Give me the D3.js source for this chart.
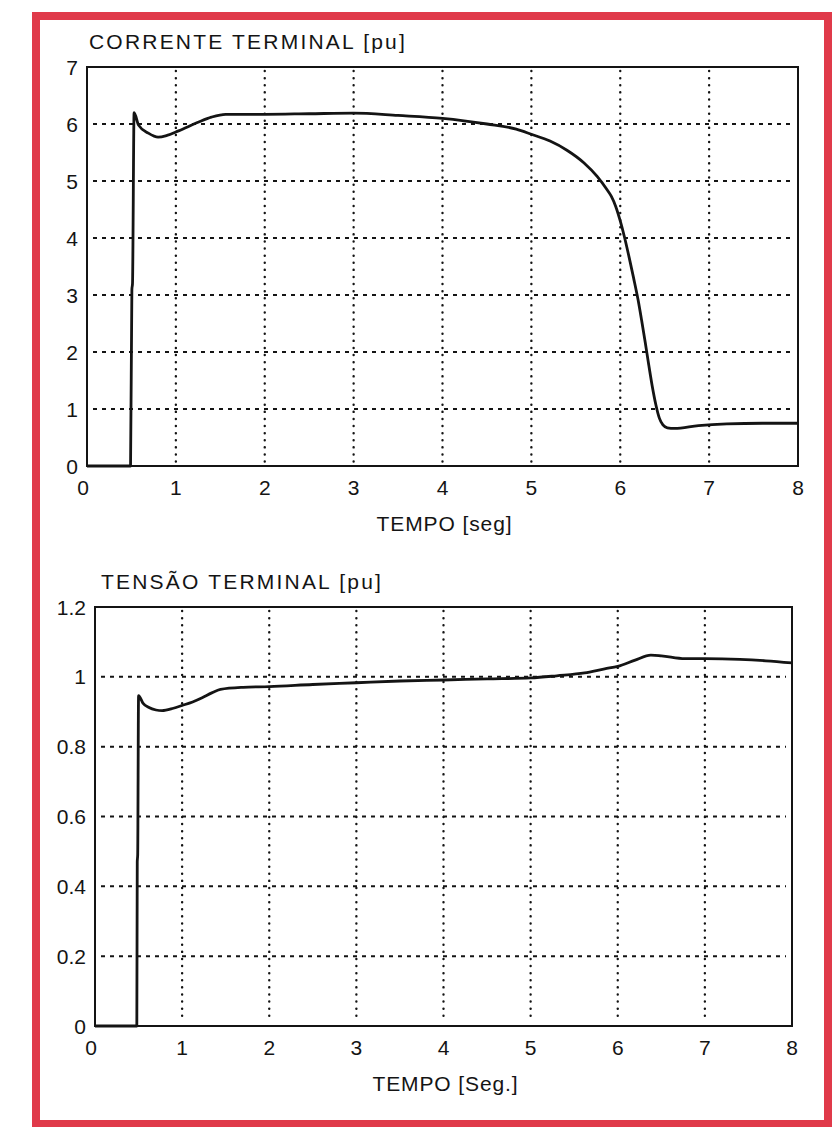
<!DOCTYPE html>
<html>
<head>
<meta charset="utf-8">
<script src="https://cdn.jsdelivr.net/npm/d3@7"></script>
<style>
  body { margin: 0; background: #ffffff; }
  svg { display: block; }
</style>
</head>
<body>
<script>
// values
var timeTicks = [0, 1, 2, 3, 4, 5, 6, 7, 8];

var currentTicks = [0, 1, 2, 3, 4, 5, 6, 7];
var currentTime = [0, 0.49, 0.505, 0.512, 0.53, 0.58, 0.69, 0.8, 0.9, 1.03, 1.25, 1.4, 1.56, 2.0, 2.5, 3.0,
    3.5, 4.0, 4.5, 4.83, 5.0, 5.21, 5.4, 5.59, 5.74, 5.85, 5.9, 5.95, 6.0, 6.05, 6.1, 6.15, 6.2, 6.24, 6.28,
    6.32, 6.36, 6.4, 6.44, 6.48, 6.53, 6.61, 6.88, 7.2, 7.6, 8.0];
var currentValues = [0, 0, 3.1, 3.2, 6.2, 5.98, 5.84, 5.77, 5.8, 5.88, 6.03, 6.12, 6.17, 6.17, 6.18, 6.19,
    6.15, 6.1, 6.0, 5.91, 5.82, 5.7, 5.54, 5.32, 5.08, 4.85, 4.73, 4.55, 4.3, 4.0, 3.66, 3.3, 2.92, 2.56,
    2.18, 1.78, 1.4, 1.08, 0.84, 0.72, 0.67, 0.66, 0.71, 0.74, 0.75, 0.75];

var voltageTicks = [0, 0.2, 0.4, 0.6, 0.8, 1, 1.2];
var voltageTime = [0, 0.48, 0.485, 0.49, 0.5, 0.55, 0.62, 0.7, 0.77, 0.9, 1.0, 1.12, 1.23, 1.34, 1.44, 1.7,
    2.0, 2.5, 3.0, 3.5, 4.0, 4.5, 5.0, 5.3, 5.62, 5.85, 6.0, 6.2, 6.38, 6.5, 6.77, 7.0, 7.4, 7.7, 8.0];
var voltageValues = [0, 0, 0.47, 0.49, 0.946, 0.925, 0.912, 0.905, 0.903, 0.91, 0.918, 0.928, 0.94, 0.954,
    0.964, 0.97, 0.972, 0.978, 0.983, 0.988, 0.991, 0.994, 0.997, 1.003, 1.011, 1.023, 1.03, 1.048,
    1.062, 1.06, 1.052, 1.052, 1.05, 1.046, 1.04];

var W = 840, H = 1127;
var font = "'Liberation Sans', Arial, sans-serif";
var ink = "#141414";

var svg = d3.select("body").append("svg")
    .attr("width", W)
    .attr("height", H);

// red frame round the page
svg.append("rect")
    .attr("x", 36).attr("y", 16)
    .attr("width", 792).attr("height", 1108)
    .attr("fill", "none")
    .attr("stroke", "#e03a4a")
    .attr("stroke-width", 8);

function drawPanel(opt) {
    var x = d3.scaleLinear().domain([0, 8]).range([opt.left, opt.right]);
    var y = d3.scaleLinear().domain([0, opt.max]).range([opt.bottom, opt.top]);
    var g = svg.append("g");

    // dotted vertical grid
    g.selectAll("line.vg")
        .data(timeTicks.slice(1, -1))
        .enter().append("line")
        .attr("x1", function (d) { return x(d); })
        .attr("x2", function (d) { return x(d); })
        .attr("y1", opt.top + 4)
        .attr("y2", opt.bottom - 4)
        .attr("stroke", ink)
        .attr("stroke-width", 2.4)
        .attr("stroke-linecap", "round")
        .attr("stroke-dasharray", "0.1,7");

    // dashed horizontal grid
    g.selectAll("line.hg")
        .data(opt.ticks.slice(1, -1))
        .enter().append("line")
        .attr("x1", opt.left + 6)
        .attr("x2", opt.right - 6)
        .attr("y1", function (d) { return y(d); })
        .attr("y2", function (d) { return y(d); })
        .attr("stroke", ink)
        .attr("stroke-width", 2)
        .attr("stroke-dasharray", "4,5");

    // box
    g.append("rect")
        .attr("x", opt.left).attr("y", opt.top)
        .attr("width", opt.right - opt.left)
        .attr("height", opt.bottom - opt.top)
        .attr("fill", "none")
        .attr("stroke", ink)
        .attr("stroke-width", 2);

    // y tick labels
    g.selectAll("text.yt")
        .data(opt.ticks)
        .enter().append("text")
        .attr("x", opt.left - 9)
        .attr("y", function (d) { return y(d); })
        .attr("dy", "0.36em")
        .attr("text-anchor", "end")
        .style("font-family", font)
        .style("font-size", "21px")
        .attr("fill", ink)
        .text(function (d) { return d; });

    // x tick labels
    g.selectAll("text.xt")
        .data(timeTicks)
        .enter().append("text")
        .attr("x", function (d) { return x(d) - (d === 0 ? 4 : 0); })
        .attr("y", opt.bottom + 29)
        .attr("text-anchor", "middle")
        .style("font-family", font)
        .style("font-size", "21px")
        .attr("fill", ink)
        .text(function (d) { return d; });

    // titles
    g.append("text")
        .attr("x", opt.left + opt.titleDx)
        .attr("y", opt.top - 18)
        .style("font-family", font)
        .style("font-size", "21px")
        .style("letter-spacing", "2.2px")
        .attr("fill", ink)
        .text(opt.title);

    g.append("text")
        .attr("x", (opt.left + opt.right) / 2 + 2)
        .attr("y", opt.bottom + 65)
        .attr("text-anchor", "middle")
        .style("font-family", font)
        .style("font-size", "21px")
        .style("letter-spacing", "0.9px")
        .attr("fill", ink)
        .text(opt.xLabel);

    // the trace
    var line = d3.line()
        .x(function (d) { return x(d[0]); })
        .y(function (d) { return y(d[1]); })
        .curve(d3.curveMonotoneX);

    g.append("path")
        .datum(d3.zip(opt.time, opt.values))
        .attr("fill", "none")
        .attr("stroke", ink)
        .attr("stroke-width", 2.8)
        .attr("stroke-linejoin", "round")
        .attr("d", line);
}

drawPanel({
    left: 87, right: 798, top: 67, bottom: 466,
    max: 7, ticks: currentTicks,
    time: currentTime, values: currentValues,
    title: "CORRENTE TERMINAL [pu]", titleDx: 2,
    xLabel: "TEMPO [seg]"
});

drawPanel({
    left: 95, right: 792, top: 607, bottom: 1026,
    max: 1.2, ticks: voltageTicks,
    time: voltageTime, values: voltageValues,
    title: "TENSÃO TERMINAL [pu]", titleDx: 6,
    xLabel: "TEMPO [Seg.]"
});
</script>
</body>
</html>
